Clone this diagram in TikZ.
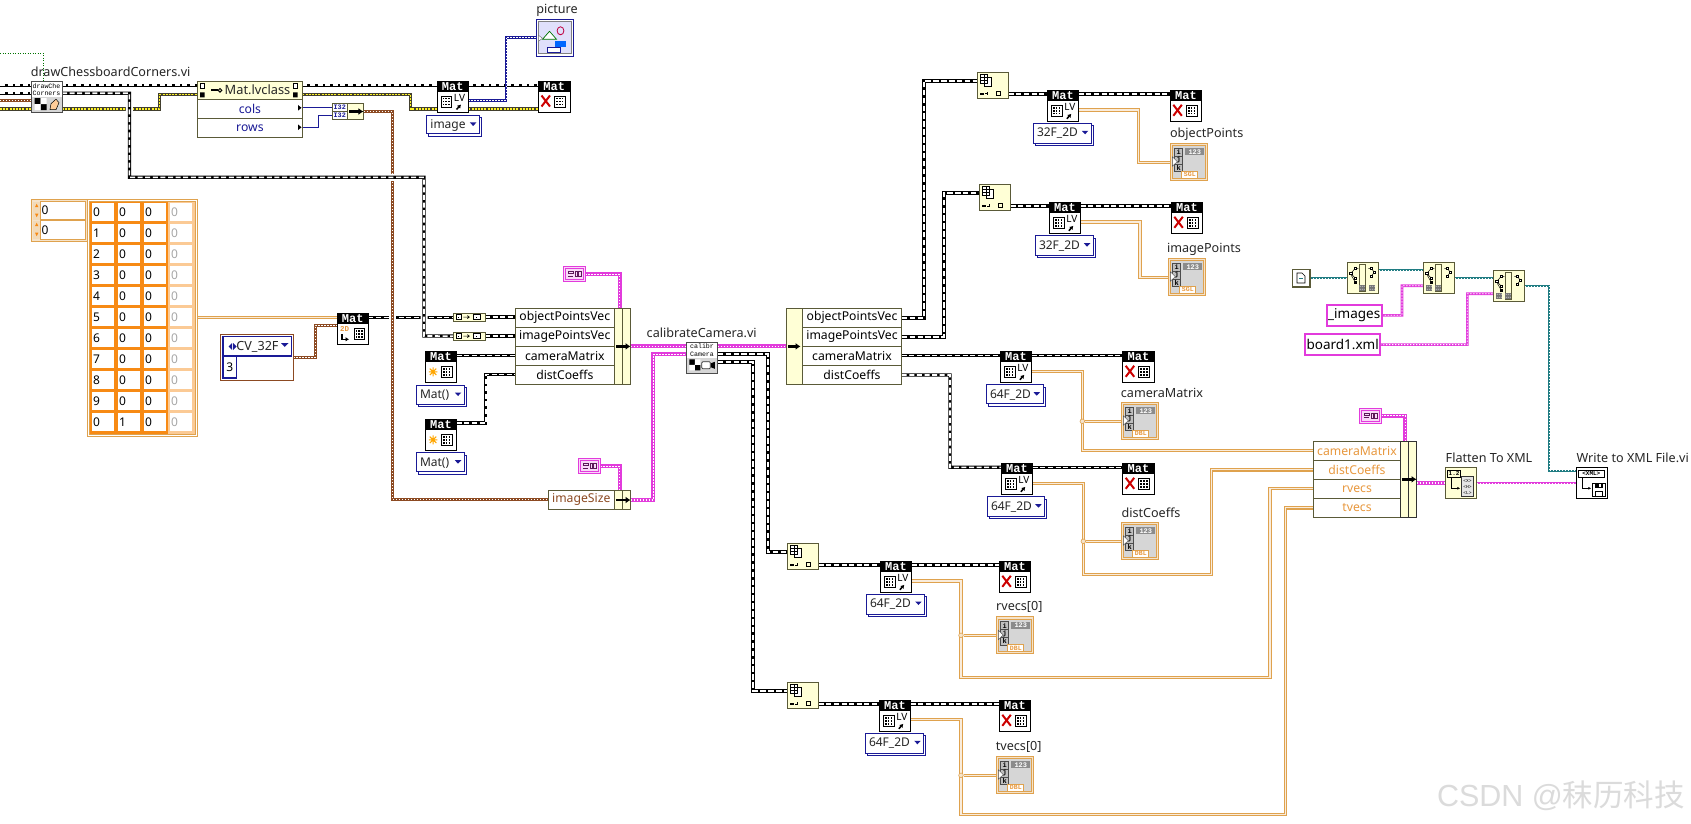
\documentclass[tikz,border=0pt]{standalone}
\usepackage{fontspec}
\setmainfont{Noto Sans}
\newfontfamily\monof{Liberation Mono}
\newfontfamily\arialf{Liberation Sans}
\newfontfamily\cjkf{Noto Sans CJK SC}
\usetikzlibrary{arrows.meta}
\pgfdeclarelayer{wires}\pgfsetlayers{wires,main}
\definecolor{cream}{HTML}{FFFFD6}
\definecolor{olivebd}{HTML}{5A5A38}
\definecolor{lvorange}{HTML}{F78A14}
\definecolor{wireor}{HTML}{DFA24E}
\definecolor{lvpink}{HTML}{E23BDC}
\definecolor{lvbrown}{HTML}{8C4A22}
\definecolor{lvteal}{HTML}{1F7C82}
\definecolor{lvnavy}{HTML}{1A1A96}
\definecolor{lvtxtor}{HTML}{E8983E}
\definecolor{lvgrey}{HTML}{D6D6D6}
\tikzset{
  rectbase/.style={rectangle,inner sep=0pt,outer sep=0pt,line width=.8pt},
  lbl/.style={inner sep=0pt,font=\fontsize{12.6}{15}\selectfont,text=black!85},
  rowtxt/.style={rectbase,draw=olivebd,fill=white,font=\fontsize{12.2}{15}\selectfont},
  crm/.style={rectbase,draw=olivebd,fill=cream},
  halo/.style={preaction={draw=white,line width=7pt,dash pattern=on 100cm off 0pt}},
  chain/.style={draw=black,line width=3.3pt,postaction={draw=white,line width=1.6pt,dash pattern=on 5pt off 2.6pt}},
  chainb/.style={draw=black,line width=4.2pt,postaction={draw=white,line width=2.2pt,dash pattern=on 5.5pt off 2.4pt}},
  pinkb/.style={draw=lvpink,line width=4pt,postaction={draw=white,line width=1.1pt,dash pattern=on 1.6pt off 1.4pt}},
  pinkt/.style={draw=lvpink,line width=2.6pt,postaction={draw=white,line width=.8pt,dash pattern=on 1.4pt off 1.6pt}},
  brownw/.style={draw=lvbrown,line width=3pt,postaction={draw=white,line width=1pt,dash pattern=on 1.4pt off 1.6pt}},
  tealw/.style={draw=lvteal,line width=2.4pt,postaction={draw=white,line width=.8pt,dash pattern=on 1.4pt off 1.6pt}},
  yellw/.style={draw=black!70!olive,line width=3.4pt,postaction={draw=yellow!85!white,line width=1.3pt,dash pattern=on 2pt off 1.2pt}},
  bluedot/.style={draw=lvnavy,line width=2.8pt,postaction={draw=white,line width=.9pt,dash pattern=on 1.4pt off 1.6pt}},
  bluew/.style={draw=lvnavy,line width=1.1pt},
  greenw/.style={draw=green!45!black,line width=.9pt,dash pattern=on 1pt off 1.5pt},
  orw/.style={draw=wireor,double=white!80!wireor,line width=1.1pt,double distance=1.3pt},
  jct/.style={circle,fill=white!70!wireor,draw=wireor,line width=.6pt,inner sep=0pt,minimum size=4.6pt},
  cell/.style={rectbase,fill=white,anchor=north west,text width=19.3pt,inner sep=1.5pt,minimum height=17.7pt,align=left,font=\fontsize{12}{14}\selectfont},
}
% name x1 y1 x2 y2 style text
\newcommand{\RN}[7]{%
  \pgfmathsetmacro\rncx{(#2+#4)/2}\pgfmathsetmacro\rncy{(#3+#5)/2}%
  \pgfmathsetmacro\rnw{abs(#4-(#2))}\pgfmathsetmacro\rnh{abs(#5-(#3))}%
  \node[rectbase,minimum width=\rnw pt,minimum height=\rnh pt,#6] (#1) at (\rncx,\rncy) {#7};}
\newcommand{\lvgrid}[2]{\begin{scope}[shift={(#1,#2)}]%
  \draw[line width=.5pt] (0,0) rectangle (10.5,11);
  \foreach \gi in {2.4,5.2,8}{\foreach \gj in {2.6,5.5,8.4}{\fill (\gi-.8,\gj-.8) rectangle (\gi+.8,\gj+.8);}}
  \end{scope}}
\newcommand{\kindX}{\draw[red!80!black,line width=2pt] (3,14.5)--(11.5,25.5) (11.5,14.5)--(3,25.5);\lvgrid{16}{15}}
\newcommand{\kindLV}{\lvgrid{4}{15}\node[inner sep=0pt,font=\fontsize{10}{10}\selectfont\rmfamily] at (22.5,16.8) {LV};
  \draw[line width=1.5pt,-{Latex[length=3.5pt,width=4.5pt]}] (19.5,28.5) -- (24,23.5);}
\newcommand{\kindST}{\draw[orange!70!yellow,line width=1.1pt] (3.5,20.5) -- (12,20.5) (7.75,16) -- (7.75,25) (4.5,17.3) -- (11,23.7) (11,17.3) -- (4.5,23.7);\lvgrid{16}{15}}
\newcommand{\kindTD}{\node[inner sep=0pt,text=lvtxtor,font=\fontsize{7.5}{8}\selectfont\bfseries\monof] at (7.5,16) {2D};
  \draw[line width=1.5pt,-{Latex[length=3.5pt,width=4.5pt]}] (5,21) -- (5,26) -- (12,26);\lvgrid{17}{15}}
% name x y kind
\newcommand{\MatBox}[4]{\begin{scope}[shift={(#2,#3)}]
  \RN{#1}{0}{0}{31.4}{31.4}{draw=black,fill=white}{}
  \RN{#1h}{0}{0}{31.4}{10.6}{fill=black,text=white,font=\fontsize{12}{11}\selectfont\bfseries\monof}{Mat}
  \csname kind#4\endcsname
  \end{scope}}
% name x1 y1 x2 y2 text
\newcommand{\Combo}[6]{%
  \draw[lvnavy,fill=white,line width=.8pt] (#2+2,#3+2.2) rectangle (#4,#5);
  \RN{#1}{#2}{#3}{#4-2}{#5-2.2}{draw=lvnavy,fill=white}{}
  \node[lbl,anchor=west,font=\fontsize{12}{15}\selectfont] at (#2+3.5,#3+10.2) {#6};
  \fill[lvnavy] (#4-11.5,#3+7.5) -- (#4-5,#3+7.5) -- (#4-8.25,#3+11) -- cycle;}
% name x y tag
\newcommand{\Ind}[4]{\begin{scope}[shift={(#2,#3)}]
  \RN{#1}{0}{0}{37.4}{37}{draw=wireor,fill=white!70!wireor}{}
  \RN{#1i}{2.2}{2.2}{35.2}{34.8}{draw=wireor,fill=lvgrey}{}
  \foreach \kk/\yy in {i/5,j/12.8,k/20.6}{\RN{#1\kk}{4.5}{\yy}{12.5}{\yy+7.8}{draw=black!70,fill=black!25,font=\fontsize{7}{7}\selectfont\bfseries\monof}{\kk}}
  \RN{#1n}{15}{5}{34}{12}{fill=black!45,font=\fontsize{7}{7}\selectfont\bfseries\monof,text=white}{123}
  \RN{#1t}{11.5}{28}{27.5}{35}{draw=wireor,fill=white,text=lvtxtor,font=\fontsize{6.5}{6.5}\selectfont\bfseries\monof}{#4}
  \fill[white,draw=black!70,line width=.4pt] (2,13.5) -- (7,18.3) -- (2,23) -- cycle;
  \end{scope}}
\newcommand{\IdxN}[3]{\begin{scope}[shift={(#2,#3)}]
  \RN{#1}{0}{0}{31.4}{26.4}{crm}{}
  \draw[line width=.5pt,fill=white] (6.5,4.5) rectangle (13.5,13.5);
  \draw[line width=.5pt,fill=white] (3,2) rectangle (10,11);
  \draw[line width=.5pt] (3,5) -- (10,5) (3,8) -- (10,8) (6.5,2) -- (6.5,11);
  \fill (3,20.5) rectangle (6.5,23);
  \draw[line width=.6pt] (8,21.5) -- (11,21.5) (9.5,20) -- (9.5,23);
  \draw[line width=.9pt] (19,19.5) rectangle (23,23.5);
  \end{scope}}
\newcommand{\Conv}[3]{\begin{scope}[shift={(#2,#3)}]
  \RN{#1}{0}{0}{31.7}{7.6}{crm}{}
  \draw[line width=.6pt,fill=white] (3,1.3) rectangle (8,6.3);\fill (5,3.3) rectangle (6,4.3);
  \draw[line width=.6pt] (10,3.8) -- (16,3.8) (14,2.3) -- (16,3.8) -- (14,5.3);
  \draw[line width=.6pt,fill=white] (20,1.3) rectangle (27,6.3);\fill (23,3.3) rectangle (24,4.3);
  \end{scope}}
\newcommand{\PinkC}[3]{\begin{scope}[shift={(#2,#3)}]
  \RN{#1}{0}{0}{21.7}{15}{draw=lvpink,fill=white!80!lvpink,line width=1pt}{}
  \draw[lvpink,line width=.6pt] (2,2) rectangle (19.7,13);
  \draw[black!60!lvpink,line width=.6pt] (4.5,4.5) rectangle (10,7) (4.5,9.2) -- (10,9.2);
  \draw[black!60!lvpink,line width=.8pt] (12,5) rectangle (14.3,10) (15.5,5) rectangle (18,10);
  \end{scope}}
\newcommand{\BunArrow}[3]{\draw[line width=2.4pt,-{Latex[length=5pt,width=7pt]}] (#1,#3) -- (#2,#3);}
\newcommand{\Pat}[2]{\fill[black!55] (#1,#2) rectangle (#1+6,#2+6);
  \foreach \pp in {1,3,5}{\fill[white] (#1+\pp-.4,#2+1) rectangle (#1+\pp+.4,#2+1.8) (#1+\pp-.4,#2+4) rectangle (#1+\pp+.4,#2+4.8);}}
\newcommand{\ForkL}{\draw[line width=.5pt] (3.5,11) -- (8,6) -- (11,6) (3.5,11) -- (8,16);
  \foreach \fx/\fy in {3.5/11,8/6,8/16}{\draw[fill=white,line width=.5pt] (\fx-1.2,\fy-1.2) rectangle (\fx+1.2,\fy+1.2);}
  \fill (6.5,18.5) rectangle (9.5,21.5);
  \draw[line width=.5pt] (4,13) -- (8,20);}
\newcommand{\ForkR}[1]{\begin{scope}[shift={(#1,0)}]\draw[line width=.5pt] (0,6) -- (3,6) -- (6,10) -- (3,14);
  \foreach \fx/\fy in {3/6,6/10,3/14}{\draw[fill=white,line width=.5pt] (\fx-1.2,\fy-1.2) rectangle (\fx+1.2,\fy+1.2);}\end{scope}}
\newcommand{\StrN}[4]{\begin{scope}[shift={(#2,#3)}]
  \RN{#1}{0}{0}{31.4}{31.4}{crm}{}
  \draw[olivebd,line width=.7pt,fill=cream] (12,2.5) rectangle (18,29);
  \ForkL\ForkR{21}
  \Pat{12}{22.5}
  \ifnum#4=1\Pat{22}{22.5}\else\Pat{3}{22.5}\fi
  \end{scope}}
\begin{document}
\begin{tikzpicture}[x=1pt,y=-1pt]
\useasboundingbox (0,0) rectangle (1691,824);
\begin{pgfonlayer}{wires}
\fill[white] (0,0) rectangle (1691,824);
\end{pgfonlayer}
\coordinate (lg) at (0,53.3);\coordinate (la) at (0,85.3);\coordinate (lb) at (0,93.3);\coordinate (lc) at (0,101);\coordinate (ld) at (0,109);
% ---------- top left
\node[lbl] (tdc) at (110.6,71.7) {drawChessboardCorners.vi};
\begin{scope}[shift={(31,81.7)}]
  \RN{drawc}{0}{0}{31}{31}{draw=black!70,fill=lvgrey}{}
  \RN{drawct}{0}{0}{31}{15.5}{fill=white,font=\fontsize{6.6}{7.6}\selectfont\monof,align=center}{drawChe\\Corners}
  \draw[black!70,line width=.8pt] (0,0) rectangle (31,31);
  \fill (3.5,16.5) rectangle (9.5,22.5) (9.5,22.5) rectangle (15.5,28.5);
  \fill[white] (9.5,16.5) rectangle (15.5,22.5) (3.5,22.5) rectangle (9.5,28.5);
  \draw[black,fill=orange!40!white,line width=.5pt] (19,28) -- (20,22) -- (25,17.5) -- (28,21) -- (25,28) -- cycle;
\end{scope}
\RN{cls}{197.5}{81.7}{302.3}{137.3}{draw=olivebd,fill=white}{}
\RN{clsh}{197.5}{81.7}{302.3}{99.3}{crm}{}
\node[lbl,font=\fontsize{12.8}{15}\selectfont] (clst) at (257.5,90) {Mat.lvclass};
\draw[line width=.5pt,fill=white] (200,83.5) rectangle (204.5,88.5) (293,83.5) rectangle (297.5,88.5);
\fill (200,92.5) rectangle (204.5,97.5) (293,92.5) rectangle (297.5,97.5);
\fill (211,89.3) rectangle (218,91.3);\draw[line width=1pt] (220,90.3) circle (1.8);
\RN{clsa}{197.5}{99.3}{302.3}{118.3}{rowtxt,text=lvnavy}{cols}
\RN{clsb}{197.5}{118.3}{302.3}{137.3}{rowtxt,text=lvnavy}{rows}
\fill (298,105) -- (301.5,107.8) -- (298,110.6) -- cycle (298,124.5) -- (301.5,127.3) -- (298,130.1) -- cycle;
\RN{buna}{332}{103.3}{363.6}{119.3}{crm}{}
\RN{i32a}{332}{103.3}{347.5}{111.3}{draw=olivebd,fill=white,text=lvnavy,font=\fontsize{6.8}{7}\selectfont\bfseries\monof}{I32}
\RN{i32b}{332}{111.3}{347.5}{119.3}{draw=olivebd,fill=white,text=lvnavy,font=\fontsize{6.8}{7}\selectfont\bfseries\monof}{I32}
\BunArrow{349}{363.4}{111.5}
\MatBox{mlv}{437}{81}{LV}
\MatBox{mx}{538.5}{81}{X}
\Combo{cimg}{426.7}{115}{481.4}{136}{image}
\node[lbl] (tpic) at (557,10) {picture};
\begin{scope}[shift={(536.5,19.3)}]
  \RN{pic}{0}{0}{36.6}{36.7}{draw=lvnavy,fill=white}{}
  \RN{pici}{2.2}{2.2}{34.4}{34.5}{draw=black!50,fill=black!12!blue!12!white}{}
  \draw[green!45!black,line width=.7pt,fill=white] (6,20) -- (13,12) -- (20,20) -- cycle;
  \draw[purple,line width=.8pt] (24,11.5) ellipse (3.4 and 4);
  \fill[blue!60!cyan] (18,21.5) rectangle (29,28);
  \draw[lvnavy,line width=.7pt,fill=white] (11,28.5) rectangle (24,33.5);
  \fill[white,draw=black!60,line width=.4pt] (2,16) -- (6,19) -- (2,22) -- cycle;
\end{scope}
% ---------- array
\RN{idx}{31}{199}{87}{241}{draw=wireor,fill=white!70!wireor}{}
\foreach \iy in {201.7,220.7}{%
  \fill[white!60!wireor] (33.3,\iy) rectangle (40,\iy+18);
  \fill[lvorange] (35,\iy+5.5) -- (36.7,\iy+2) -- (38.4,\iy+5.5) -- cycle (35,\iy+12) -- (36.7,\iy+15.5) -- (38.4,\iy+12) -- cycle;}
\RN{idxa}{40}{201.7}{85}{219}{draw=wireor,fill=white,text width=42pt,align=left,font=\fontsize{12}{14}\selectfont}{0}
\RN{idxb}{40}{220.7}{85}{239}{draw=wireor,fill=white,text width=42pt,align=left,font=\fontsize{12}{14}\selectfont}{0}
\RN{arr}{87.5}{199.5}{197}{436}{draw=wireor,fill=white}{}
\draw[wireor,line width=.8pt] (89.5,201.5) rectangle (195,434);
\fill[lvorange] (90,202) rectangle (168,433.5);
\fill[white!55!lvorange] (168,202) rectangle (194.6,433.5);
\foreach \a [count=\i from 0] in {0,1,2,3,4,5,6,7,8,9,0}{%
  \pgfmathsetmacro\yy{203.3+21*\i}
  \node[cell] (ca\i) at (91.7,\yy) {\a};
  \node[cell] (cb\i) at (117.7,\yy) {\ifnum\i=10 1\else 0\fi};
  \node[cell] (cc\i) at (143.7,\yy) {0};
  \node[cell,text=black!35] (cd\i) at (169.7,\yy) {0};
}
\RN{clu}{220.7}{334}{293.3}{380.3}{draw=lvbrown,fill=white}{}
\RN{clue}{223}{336.7}{291.7}{356}{draw=lvnavy,fill=white,line width=1.4pt}{}
\node[lbl] (tcv) at (257.5,347) {CV\_32F};
\fill[lvnavy] (232,343) -- (228.5,346.5) -- (232,350) -- cycle (233,343) -- (236.5,346.5) -- (233,350) -- cycle;
\fill[lvnavy] (281,343) -- (288.5,343) -- (284.75,347) -- cycle;
\RN{clun}{223}{356}{236.7}{378}{draw=lvnavy,fill=white,line width=1.4pt,font=\fontsize{12}{14}\selectfont}{3}
\MatBox{mtd}{337}{313.3}{TD}
% ---------- first bundle
\Conv{conva}{453.3}{313.3}
\Conv{convb}{453.3}{332.3}
\MatBox{msa}{425.3}{351.3}{ST}
\Combo{cmaa}{416.3}{385}{466.3}{406.3}{Mat()}
\MatBox{msb}{425.3}{419.3}{ST}
\Combo{cmab}{416.3}{452.7}{466.3}{474}{Mat()}
\RN{bna}{515.3}{308.3}{614.3}{327.3}{rowtxt}{objectPointsVec}
\RN{bnb}{515.3}{327.3}{614.3}{346.5}{rowtxt}{imagePointsVec}
\RN{bnc}{515.3}{346.5}{614.3}{365.6}{rowtxt}{cameraMatrix}
\RN{bnd}{515.3}{365.6}{614.3}{384.3}{rowtxt}{distCoeffs}
\RN{bnl}{614.3}{308.3}{622.3}{384.3}{crm}{}
\RN{bnr}{622.3}{308.3}{630.7}{384.3}{crm}{}
\BunArrow{616}{630.5}{346.4}
\PinkC{pca}{563.3}{266.7}
\RN{imgs}{548.3}{490}{614.3}{509.3}{rowtxt,text=lvbrown}{imageSize}
\RN{imgl}{614.3}{490}{622.3}{509.3}{crm}{}
\RN{imgr}{622.3}{490}{630.7}{509.3}{crm}{}
\BunArrow{616}{630.5}{500}
\PinkC{pcb}{578.3}{458.7}
\node[lbl] (tcal) at (701.7,332.7) {calibrateCamera.vi};
\begin{scope}[shift={(686.3,342.3)}]
  \RN{cal}{0}{0}{31.4}{31}{draw=black!70,fill=lvgrey}{}
  \RN{calt}{0}{0}{31.4}{15.5}{fill=white,font=\fontsize{6.6}{7.6}\selectfont\monof,align=center}{calibr\\Camera}
  \draw[black!70,line width=.8pt] (0,0) rectangle (31.4,31);
  \fill (3,17) rectangle (8.5,22.5) (8.5,22.5) rectangle (14,28);
  \fill[white] (8.5,17) rectangle (14,22.5) (3,22.5) rectangle (8.5,28);
  \draw[black!80,fill=white,line width=.7pt,rounded corners=1pt] (15.5,19.5) rectangle (24,26.5);
  \fill (24.5,21) -- (28.5,19.5) -- (28.5,26.5) -- (24.5,25) -- cycle;
\end{scope}
% ---------- second bundle
\RN{boa}{802.3}{308.3}{901.7}{327.3}{rowtxt}{objectPointsVec}
\RN{bob}{802.3}{327.3}{901.7}{346.5}{rowtxt}{imagePointsVec}
\RN{boc}{802.3}{346.5}{901.7}{365.6}{rowtxt}{cameraMatrix}
\RN{bod}{802.3}{365.6}{901.7}{384.3}{rowtxt}{distCoeffs}
\RN{bol}{786.7}{308.3}{802.3}{384.3}{crm}{}
\BunArrow{788}{800.5}{346.4}
% ---------- column objectPoints / imagePoints
\IdxN{ixa}{977.3}{72.3}
\MatBox{moa}{1047.3}{90.3}{LV}
\MatBox{moax}{1170.3}{90.3}{X}
\Combo{coa}{1033.3}{123.3}{1093.3}{145.7}{32F\_2D}
\node[lbl] (top) at (1206.7,134) {objectPoints};
\Ind{ioa}{1170.3}{143.3}{SGL}
\IdxN{ixb}{979.3}{184.3}
\MatBox{mob}{1049.3}{202.3}{LV}
\MatBox{mobx}{1171.3}{202.3}{X}
\Combo{cob}{1035.3}{235.7}{1095.3}{257.3}{32F\_2D}
\node[lbl] (tip) at (1204,249) {imagePoints};
\Ind{iob}{1168.3}{258.3}{SGL}
% ---------- cameraMatrix / distCoeffs
\MatBox{mca}{1000.3}{351.3}{LV}
\MatBox{mcax}{1122.7}{351.3}{X}
\Combo{cca}{986.3}{384.7}{1045}{406}{64F\_2D}
\node[lbl] (tcm) at (1162,392.7) {cameraMatrix};
\Ind{ica}{1121.3}{402.3}{DBL}
\MatBox{mcb}{1001.3}{463.3}{LV}
\MatBox{mcbx}{1122.7}{463.3}{X}
\Combo{ccb}{987.3}{496.7}{1046.7}{518.3}{64F\_2D}
\node[lbl] (tdi) at (1151,512.7) {distCoeffs};
\Ind{icb}{1121.3}{522.3}{DBL}
% ---------- rvecs / tvecs
\IdxN{ixc}{787.3}{543.3}
\MatBox{mra}{880.3}{561.3}{LV}
\MatBox{mrax}{999.3}{561.3}{X}
\Combo{cra}{866.3}{594}{926.7}{616.7}{64F\_2D}
\node[lbl] (trv) at (1019.3,607.3) {rvecs[0]};
\Ind{ira}{996.3}{616.7}{DBL}
\IdxN{ixd}{787.3}{682.3}
\MatBox{mta}{879.3}{700.3}{LV}
\MatBox{mtax}{999.3}{700.3}{X}
\Combo{cta}{865.3}{733.3}{925.7}{755.7}{64F\_2D}
\node[lbl] (ttv) at (1018.7,747.3) {tvecs[0]};
\Ind{ita}{996.3}{756.3}{DBL}
% ---------- third bundle
\RN{bta}{1313.3}{441}{1400.7}{460.3}{rowtxt,text=lvtxtor}{cameraMatrix}
\RN{btb}{1313.3}{460.3}{1400.7}{479.3}{rowtxt,text=lvtxtor}{distCoeffs}
\RN{btc}{1313.3}{479.3}{1400.7}{498.3}{rowtxt,text=lvtxtor}{rvecs}
\RN{btd}{1313.3}{498.3}{1400.7}{517.7}{rowtxt,text=lvtxtor}{tvecs}
\RN{btl}{1400.7}{441}{1408.3}{517.7}{crm,draw=black!80}{}
\RN{btr}{1408.3}{441}{1416.7}{517.7}{crm,draw=black!80}{}
\BunArrow{1402}{1416.5}{479.3}
\PinkC{pcc}{1359.3}{408.3}
\node[lbl] (tfl) at (1489,457.7) {Flatten To XML};
\begin{scope}[shift={(1445.3,467.3)}]
  \RN{fla}{0}{0}{31.4}{31.4}{crm}{}
  \RN{flan}{2.5}{3}{15}{10}{draw=black,fill=cream,font=\fontsize{6}{6}\selectfont\bfseries\monof}{1.2}
  \draw[line width=.6pt,-{Latex[length=3pt,width=3pt]}] (6,11) -- (6,21) -- (15,21);
  \RN{fld}{16}{9.5}{28.5}{29}{draw=black!80,fill=white!90!black,font=\fontsize{4.6}{6}\selectfont\monof,align=center}{<X>\\<H>\\<L>}
\end{scope}
\node[lbl] (twr) at (1632.7,457.7) {Write to XML File.vi};
\begin{scope}[shift={(1576.3,467.3)}]
  \RN{wrt}{0}{0}{31.4}{31.4}{draw=black,fill=white}{}
  \RN{wrtx}{2}{3}{28}{10}{draw=black,fill=white,font=\fontsize{6}{6}\selectfont\bfseries\monof}{<XML>}
  \draw[line width=.7pt,-{Latex[length=3pt,width=3pt]}] (6,11) -- (6,21) -- (15,21);
  \draw[line width=.7pt] (16,16) rectangle (29,29);
  \fill (19,16) rectangle (27,21);\fill[white] (23,17) rectangle (25,20);
  \draw[line width=.7pt] (19,24) rectangle (26,29);
\end{scope}
% ---------- path functions
\RN{pth}{1292.3}{269.3}{1309.7}{286.7}{draw=olivebd,line width=1.6pt,fill=white}{}
\draw[line width=.6pt] (1297,273) -- (1302,273) -- (1305,276) -- (1305,283) -- (1297,283) -- cycle;
\draw[lvteal,line width=.7pt] (1299,278) -- (1303,278);
\StrN{fna}{1347.3}{262.3}{1}
\StrN{fnb}{1423.3}{262.3}{2}
\StrN{fnc}{1493.3}{270.3}{2}
\RN{sta}{1326.7}{305}{1381.7}{325.7}{draw=lvpink,line width=2pt,fill=white,font=\fontsize{13.5}{15}\selectfont}{\_images}
\RN{stb}{1305.3}{334.3}{1380}{355}{draw=lvpink,line width=2pt,fill=white,font=\fontsize{13.5}{15}\selectfont}{board1.xml}
\node[inner sep=0pt,text=black!14,font=\fontsize{30.5}{33}\selectfont\arialf] (wm) at (1561,796) {CSDN @{\cjkf 秣历科技}};
% junction dots
\node[jct] (ja) at (1082.3,421.3) {};
\node[jct] (jb) at (1083.3,541.3) {};
\node[jct] (jc) at (961,635.3) {};
\node[jct] (jd) at (961,775.3) {};
% ================ wires
\begin{pgfonlayer}{wires}
\draw[greenw] (lg) -- (43,53.3) -- (43,0 |- drawc.north);
\draw[brownw] (lc) -- (drawc.west |- lc);
\draw[yellw] (ld) -- (drawc.west |- ld);
\draw[yellw] (drawc.east |- ld) -- (159.6,109) -- (159.6,94.3) -- (cls.west |- 0,94.3);
\draw[yellw] (cls.east |- 0,94.3) -- (410.6,94.3) -- (410.6,109) -- (mlv.west |- 0,109);
\draw[yellw] (mlv.east |- 0,109) -- (mx.west |- 0,109);
\draw[chain] (la) -- (cls.west |- la);
\draw[chain] (cls.east |- la) -- (mlv.west |- la);
\draw[chain] (mlv.east |- la) -- (mx.west |- la);
\draw[chain] (lb) -- (drawc.west |- lb);
\draw[bluedot] (mlv.east |- 0,100.7) -- (506,100.7) -- (506,37.7) -- (pic.west |- 0,37.7);
\draw[bluew] (clsa.east |- i32a.west) -- (i32a.west);
\draw[bluew] (clsb.east) -- (318.4,127.8) -- (318.4,115.3) -- (i32b.west);
\draw[orw] (arr.east |- 0,317.3) -- (mtd.west |- 0,317.3);
\draw[brownw] (clu.east |- 0,357.3) -- (315.3,357.3) -- (315.3,325.3) -- (mtd.west |- 0,325.3);
\draw[chain] (mtd.east |- 0,317.3) -- (conva.west |- 0,317.3);
\draw[brownw,halo] (buna.east |- 0,111.7) -- (392.3,111.7) -- (392.3,499.3) -- (imgs.west |- 0,499.3);
\draw[chain,halo] (drawc.east |- lb) -- (129.4,93.3) -- (129.4,177.3) -- (424,177.3) -- (424,336) -- (convb.west);
\draw[chain] (conva.east) -- (bna.west |- conva.east);
\draw[chain] (convb.east) -- (bnb.west |- convb.east);
\draw[chain] (msa.east |- 0,355.3) -- (bnc.west |- 0,355.3);
\draw[chain] (msb.east |- 0,423) -- (485.7,423) -- (485.7,374.3) -- (bnd.west |- 0,374.3);
\draw[pinkb] (pca.east) -- (619.7,274.2) -- (619.7,0 |- bnl.north);
\draw[pinkb] (pcb.east) -- (619.7,466.2) -- (619.7,0 |- imgl.north);
\draw[pinkb] (bnr.east |- 0,346.4) -- (cal.west |- 0,346.4);
\draw[pinkb] (imgr.east |- 0,500) -- (653.3,500) -- (653.3,354.3) -- (cal.west |- 0,354.3);
\draw[pinkb] (cal.east |- 0,346.4) -- (bol.west |- 0,346.4);
\draw[chainb] (cal.east |- 0,354) -- (768,354) -- (768,551.7) -- (ixc.west |- 0,551.7);
\draw[chainb] (cal.east |- 0,362) -- (753,362) -- (753,690.7) -- (ixd.west |- 0,690.7);
\draw[chainb] (boa.east) -- (924,317.8) -- (924,80.7) -- (ixa.west |- 0,80.7);
\draw[chainb] (bob.east) -- (943.7,336.9) -- (943.7,192.7) -- (ixb.west |- 0,192.7);
\draw[chain] (boc.east |- 0,355.3) -- (mca.west |- 0,355.3);
\draw[chain] (bod.east) -- (950,375) -- (950,467.3) -- (mcb.west |- 0,467.3);
\draw[chain] (mca.east |- 0,355.3) -- (mcax.west |- 0,355.3);
\draw[chain] (mcb.east |- 0,467.3) -- (mcbx.west |- 0,467.3);
\draw[chain] (ixa.east |- 0,94) -- (moa.west |- 0,94);
\draw[chain] (moa.east |- 0,94) -- (moax.west |- 0,94);
\draw[chain] (ixb.east |- 0,206) -- (mob.west |- 0,206);
\draw[chain] (mob.east |- 0,206) -- (mobx.west |- 0,206);
\draw[chain] (ixc.east |- 0,565) -- (mra.west |- 0,565);
\draw[chain] (mra.east |- 0,565) -- (mrax.west |- 0,565);
\draw[chain] (ixd.east |- 0,704) -- (mta.west |- 0,704);
\draw[chain] (mta.east |- 0,704) -- (mtax.west |- 0,704);
\draw[orw] (moa.east |- 0,110) -- (1138.7,110) -- (1138.7,162.7) -- (ioa.west |- 0,162.7);
\draw[orw] (mob.east |- 0,222) -- (1140,222) -- (1140,277.3) -- (iob.west |- 0,277.3);
\draw[orw] (mca.east |- 0,371.3) -- (1082.3,371.3) -- (1082.3,450.3) -- (bta.west |- 0,450.3);
\draw[orw] (ja) -- (ica.west |- ja);
\draw[orw] (mcb.east |- 0,483.3) -- (1083.3,483.3) -- (1083.3,574.3) -- (1211.7,574.3) -- (1211.7,469.8) -- (btb.west |- 0,469.8);
\draw[orw] (jb) -- (icb.west |- jb);
\draw[orw] (mra.east |- 0,581) -- (961,581) -- (961,677.3) -- (1270,677.3) -- (1270,488.6) -- (btc.west |- 0,488.6);
\draw[orw] (jc) -- (ira.west |- jc);
\draw[orw] (mta.east |- 0,719.7) -- (961,719.7) -- (961,814.3) -- (1285.7,814.3) -- (1285.7,507.8) -- (btd.west |- 0,507.8);
\draw[orw] (jd) -- (ita.west |- jd);
\draw[pinkb] (pcc.east) -- (1405.3,415.8) -- (1405.3,0 |- btl.north);
\draw[pinkb] (btr.east |- fla.west) -- (fla.west);
\draw[pinkt] (fla.east) -- (wrt.west);
\draw[tealw] (pth.east) -- (fna.west |- pth.east);
\draw[tealw] (fna.east |- 0,270) -- (fnb.west |- 0,270);
\draw[tealw] (fnb.east |- 0,278) -- (fnc.west |- 0,278);
\draw[tealw] (fnc.east |- 0,286) -- (1549,286) -- (1549,470.7) -- (wrt.west |- 0,470.7);
\draw[pinkt] (sta.east) -- (1402,315.3) -- (1402,285.7) -- (fnb.west |- 0,285.7);
\draw[pinkt] (stb.east) -- (1467.3,344.6) -- (1467.3,293.7) -- (fnc.west |- 0,293.7);
\end{pgfonlayer}
\end{tikzpicture}
\end{document}
